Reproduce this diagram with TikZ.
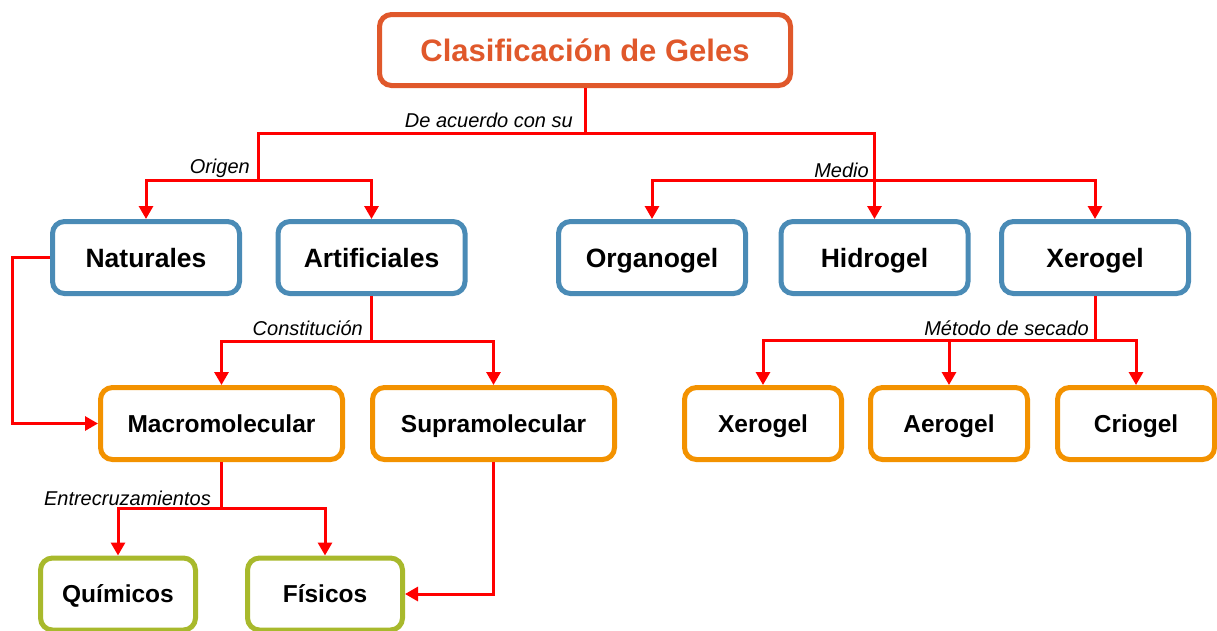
\documentclass[tikz,border=0pt]{standalone}
\usepackage{fontspec}
\setmainfont{Liberation Sans}
\usetikzlibrary{arrows.meta,positioning,calc}
\definecolor{titlecol}{HTML}{E0582B}
\definecolor{bluecol}{HTML}{4A8BB6}
\definecolor{orangecol}{HTML}{F39200}
\definecolor{greencol}{HTML}{A8B92C}
\definecolor{linecol}{HTML}{FF0000}

\begin{document}
\begin{tikzpicture}[x=1pt,y=-1pt,
	box/.style={draw,line width=5pt,rounded corners=12pt,fill=white,inner sep=0pt,minimum height=72pt,text depth=0pt},
	bluebox/.style={box,draw=bluecol,minimum width=187pt,text height=19pt,font=\bfseries\fontsize{26.5}{31}\selectfont},
	orangebox/.style={box,draw=orangecol,text height=17.6pt,font=\bfseries\fontsize{24.5}{29}\selectfont},
	greenbox/.style={box,draw=greencol,minimum width=155pt,text height=17.6pt,font=\bfseries\fontsize{24.5}{29}\selectfont},
	conn/.style={draw=linecol,line width=3pt},
	myarrow/.style={conn,-{Triangle[width=14pt,length=13pt]}},
	lbl/.style={anchor=base east,inner sep=0pt,font=\itshape\fontsize{20}{24}\selectfont}]
	\path[use as bounding box,clip] (0,0) rectangle (1217,630);
	\draw
		(585,50) node[box,draw=titlecol,minimum width=411pt,minimum height=71pt,text height=22.3pt,text=titlecol,font=\bfseries\fontsize{31}{36}\selectfont](title){Clasificación de Geles}
		(146,257.5) node[bluebox](nat){Naturales}
		(371.5,257.5) node[bluebox](art){Artificiales}
		(652,257.5) node[bluebox](org){Organogel}
		(874.5,257.5) node[bluebox](hid){Hidrogel}
		(1095,257.5) node[bluebox](xer){Xerogel}
		(221.5,423.5) node[orangebox,minimum width=242pt](mac){Macromolecular}
		(493.5,423.5) node[orangebox,minimum width=242pt](sup){Supramolecular}
		(763,423.5) node[orangebox,minimum width=157pt](xeb){Xerogel}
		(949,423.5) node[orangebox,minimum width=157pt](aer){Aerogel}
		(1136,423.5) node[orangebox,minimum width=157pt](cri){Criogel}
		(118,594) node[greenbox](qui){Químicos}
		(325,594) node[greenbox](fis){Físicos};
	\coordinate (top) at (585,133);
	\coordinate (ori) at (258,180);
	\coordinate (med) at (874.5,180);
	\coordinate (cons) at (371.5,341);
	\coordinate (sec) at (1095,340);
	\coordinate (ent) at (221.5,508);
	% de acuerdo con su
	\draw[conn](title.south)--(top);
	\draw[conn](top)-|(ori);
	\draw[myarrow](ori)-|(nat.north);
	\draw[myarrow](ori)-|(art.north);
	\draw[myarrow](top)-|(hid.north);
	\draw[myarrow](med)-|(org.north);
	\draw[myarrow](med)-|(xer.north);
	\draw[myarrow](nat.west)--++(-38,0)|-(mac.west);
	\draw[conn](art.south)--(cons);
	\draw[myarrow](cons)-|(mac.north);
	\draw[myarrow](cons)-|(sup.north);
	\draw[conn](xer.south)--(sec);
	\draw[myarrow](sec)-|(xeb.north);
	\draw[myarrow](sec)-|(aer.north);
	\draw[myarrow](sec)-|(cri.north);
	\draw[conn](mac.south)--(ent);
	\draw[myarrow](ent)-|(qui.north);
	\draw[myarrow](ent)-|(fis.north);
	\draw[myarrow](sup.south)|-(fis.east);
	\path
		(573,127) node[lbl](lacuerdo){De acuerdo con su}
		(250,173) node[lbl](lorigen){Origen}
		(869,177) node[lbl](lmedio){Medio}
		(363,335) node[lbl](lconst){Constitución}
		(1089,335) node[lbl](lsecado){Método de secado}
		(211,505) node[lbl](lentre){Entrecruzamientos};
\end{tikzpicture}
\end{document}
